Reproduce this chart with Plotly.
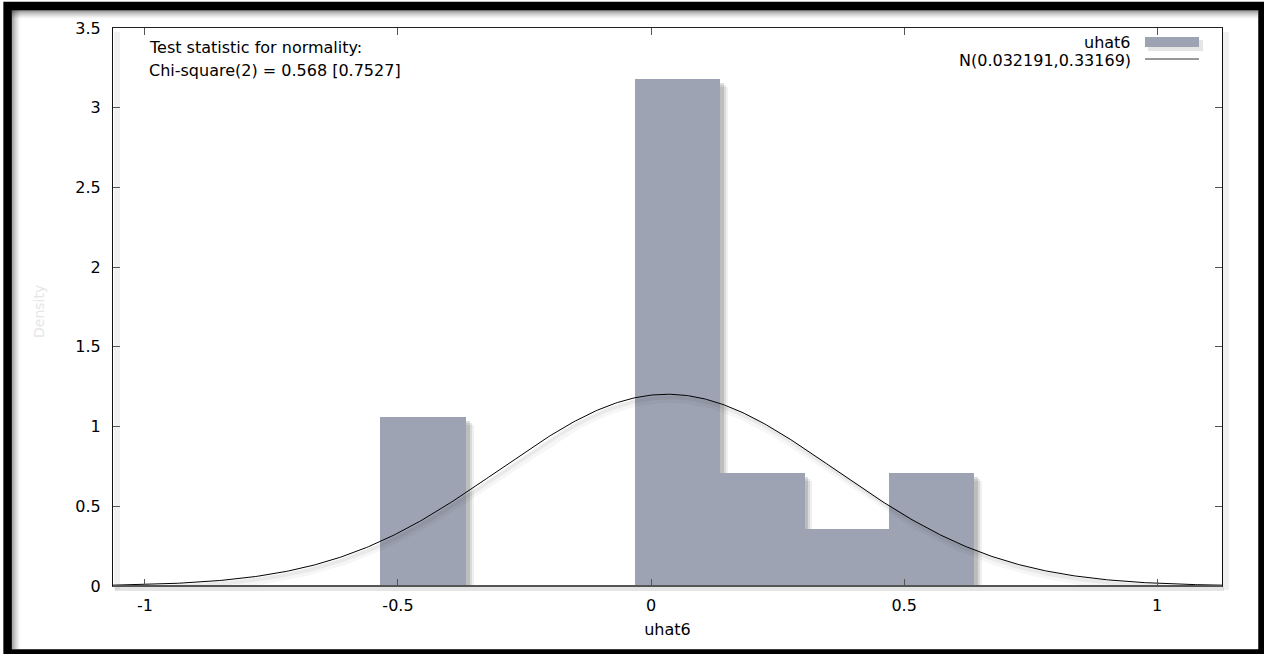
import numpy as np
import plotly.graph_objects as go

# Histogram of residuals uhat6 (density scale) with fitted normal curve
bin_centers = [-0.450, 0.052, 0.219, 0.387, 0.554]
density = [1.06, 3.18, 0.71, 0.355, 0.71]
bin_width = 0.1674

normal_mean = 0.032191
normal_sd = 0.33169

x_tick_vals = [-1, -0.5, 0, 0.5, 1]
x_tick_text = ["-1", "-0.5", "0", "0.5", "1"]
y_tick_vals = [0, 0.5, 1, 1.5, 2, 2.5, 3, 3.5]
y_tick_text = ["0", "0.5", "1", "1.5", "2", "2.5", "3", "3.5"]

series_name = "uhat6"
curve_name = f"N({normal_mean},{normal_sd})"
stat_lines = ["Test statistic for normality:", "Chi-square(2) = 0.568 [0.7527]"]
y_title = "Density"

W, H = 1264, 654
ML, MR, MT, MB = 113, 42, 28, 68
PW, PH = W - ML - MR, H - MT - MB
x_range = [-1.063, 1.128]
y_range = [0, 3.5]
ux = (x_range[1] - x_range[0]) / PW   # data units per pixel, x
uy = (y_range[1] - y_range[0]) / PH   # data units per pixel, y

BAR = "#9da3b2"
FONT = "DejaVu Sans"
FS = 16

fig = go.Figure()

# soft drop shadows under the bars
for off, alpha in [(8, 0.06), (6, 0.09), (4, 0.13)]:
    fig.add_trace(go.Bar(
        x=[c + off * ux for c in bin_centers], y=density,
        base=[-off * uy] * len(density), width=bin_width,
        marker=dict(color=f"rgba(0,0,0,{alpha})", line=dict(width=0)),
        hoverinfo="skip", showlegend=False))

# bars slightly overlap so neighbouring bins join without a seam
fig.add_trace(go.Bar(
    x=bin_centers, y=density, width=bin_width + ux, name=series_name,
    marker=dict(color=BAR, line=dict(width=0)), showlegend=False))

# fitted normal density
xs = np.linspace(x_range[0], x_range[1], 500)
ys = np.exp(-0.5 * ((xs - normal_mean) / normal_sd) ** 2) / (normal_sd * np.sqrt(2 * np.pi))

for off, width, alpha in [(5, 7, 0.035), (3, 4, 0.05)]:
    fig.add_trace(go.Scatter(
        x=xs + 2 * ux, y=ys - off * uy, mode="lines",
        line=dict(color=f"rgba(0,0,0,{alpha})", width=width),
        hoverinfo="skip", showlegend=False))

fig.add_trace(go.Scatter(
    x=xs, y=ys, mode="lines", name=curve_name,
    line=dict(color="black", width=1), showlegend=False))


def px_x(p):
    return (p - ML) / PW


def px_y(p):
    return (H - MB - p) / PH


annotations = []


def label(text, x, y, xanchor, size=FS, color="black", **kw):
    annotations.append(dict(
        text=text, x=x, y=y, xref="paper", yref="paper",
        xanchor=xanchor, yanchor="middle", showarrow=False,
        font=dict(family=FONT, size=size, color=color), **kw))


label(stat_lines[0], px_x(147), px_y(47), "left")
label(stat_lines[1], px_x(147), px_y(70), "left")
label(series_name, px_x(1133), px_y(42), "right")
label(curve_name, px_x(1133), px_y(61), "right")
label(y_title, px_x(39), px_y(312), "center", size=14, color="#e6e6e6",
      textangle=-90)

shapes = []
# legend swatches
shapes.append(dict(type="rect", xref="paper", yref="paper",
                   x0=px_x(1148), x1=px_x(1203), y0=px_y(40), y1=px_y(51),
                   fillcolor="rgba(0,0,0,0.10)", line=dict(width=0)))
shapes.append(dict(type="rect", xref="paper", yref="paper",
                   x0=px_x(1145), x1=px_x(1199), y0=px_y(37), y1=px_y(47),
                   fillcolor=BAR, line=dict(width=0)))
shapes.append(dict(type="line", xref="paper", yref="paper",
                   x0=px_x(1145), x1=px_x(1199), y0=px_y(59), y1=px_y(59),
                   line=dict(color="#333", width=1)))
# heavier baseline along the bottom axis, with its shadow
shapes.append(dict(type="line", xref="paper", yref="paper",
                   x0=px_x(115), x1=px_x(1224), y0=px_y(589), y1=px_y(589),
                   line=dict(color="rgba(0,0,0,0.10)", width=4), layer="below"))
shapes.append(dict(type="line", xref="paper", yref="paper",
                   x0=0, x1=1, y0=0, y1=0,
                   line=dict(color="#555", width=2), layer="above"))
# shadows beside the left and right frame lines
for p in (ML, ML + PW):
    shapes.append(dict(type="line", xref="paper", yref="paper",
                       x0=px_x(p + 4), x1=px_x(p + 4), y0=px_y(32), y1=px_y(590),
                       line=dict(color="rgba(0,0,0,0.06)", width=6), layer="below"))

# black outer frame with an inner shadow along its top and left edges
for i in range(9):
    a = 0.42 * (1 - i / 9) ** 1.5
    shapes.append(dict(type="line", xref="paper", yref="paper",
                       x0=px_x(12 + i), x1=px_x(12 + i), y0=px_y(10), y1=px_y(649),
                       line=dict(color=f"rgba(0,0,0,{a:.3f})", width=1)))
    shapes.append(dict(type="line", xref="paper", yref="paper",
                       x0=px_x(12), x1=px_x(1258), y0=px_y(10.5 + i), y1=px_y(10.5 + i),
                       line=dict(color=f"rgba(0,0,0,{a:.3f})", width=1)))
shapes.append(dict(type="rect", xref="paper", yref="paper",
                   x0=px_x(7.6), x1=px_x(1262.5), y0=px_y(6), y1=px_y(653.5),
                   line=dict(color="black", width=8.5), fillcolor="rgba(0,0,0,0)"))

axis_common = dict(
    showgrid=False, zeroline=False, showline=True, mirror="ticks",
    ticks="inside", ticklen=7, tickwidth=1, tickcolor="#555",
    tickfont=dict(family=FONT, size=FS, color="black"),
)

fig.update_layout(
    width=W, height=H,
    margin=dict(l=ML, r=MR, t=MT, b=MB, pad=0),
    paper_bgcolor="white", plot_bgcolor="white",
    barmode="overlay", bargap=0,
    showlegend=False,
    xaxis=dict(range=x_range, tickvals=x_tick_vals, ticktext=x_tick_text,
               linecolor="#222", linewidth=1, ticklabelstandoff=5,
               title=dict(text=series_name, standoff=9,
                          font=dict(family=FONT, size=FS, color="black")),
               **axis_common),
    yaxis=dict(range=y_range, tickvals=y_tick_vals, ticktext=y_tick_text,
               linecolor="#111", linewidth=1, ticklabelstandoff=8,
               **axis_common),
    annotations=annotations,
    shapes=shapes,
)

fig.write_html("out.html")
